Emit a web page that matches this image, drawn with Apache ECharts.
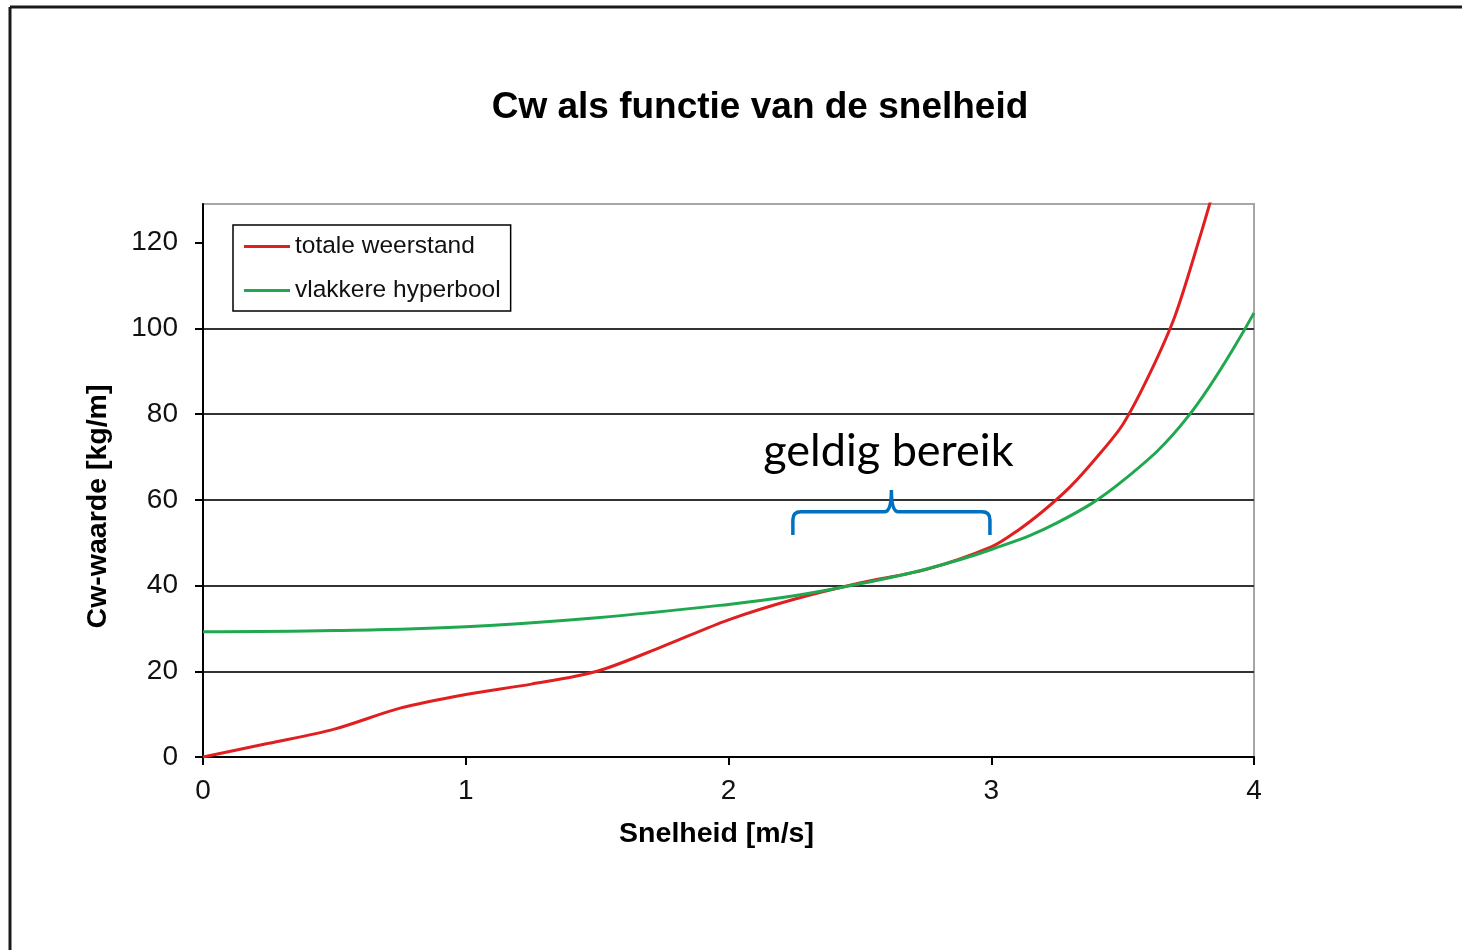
<!DOCTYPE html>
<html>
<head>
<meta charset="utf-8">
<title>Cw als functie van de snelheid</title>
<script src="https://cdn.jsdelivr.net/npm/echarts@6/dist/echarts.min.js"></script>
<style>
    html, body { margin: 0; padding: 0; background: #fff; }
    #main { width: 1462px; height: 950px; }
</style>
</head>
<body>
<div id="main"></div>
<script>
// snelheid [m/s] en Cw-waarde [kg/m]
var speedRed = [0, 0.25, 0.5, 0.75, 1, 1.25, 1.5, 1.75, 2, 2.25, 2.5, 2.75, 3, 3.1, 3.2, 3.3, 3.4, 3.5, 3.6, 3.7, 3.8, 3.85];
var totaleWeerstand = [0, 3.2, 6.5, 11.4, 14.6, 17, 20, 25.8, 32, 36.8, 40.6, 43.7, 49, 52.8, 57.5, 63, 69.8, 77.5, 89, 103, 122.5, 133];

var speedGreen = [0, 0.5, 1, 1.5, 2, 2.25, 2.5, 2.75, 3, 3.25, 3.5, 3.75, 4];
var vlakkereHyperbool = [29.2, 29.5, 30.4, 32.5, 35.6, 37.6, 40.4, 43.8, 48.4, 54.6, 64.4, 79.5, 103.6];

var xTicks = [0, 1, 2, 3, 4];
var yTicks = [0, 20, 40, 60, 80, 100, 120];

// geldig bereik (accolade)
var validRange = [2.245, 2.995];
var braceFoot = 51.8, braceBar = 57.2, bracePeak = 62.3, braceLabelLevel = 71.3;

var seriesNames = ['totale weerstand', 'vlakkere hyperbool'];

function pairs(xs, ys) {
    return xs.map(function (x, i) { return [x, ys[i]]; });
}

var chart = echarts.init(document.getElementById('main'));

function renderBrace(params, api) {
    var left = api.coord([api.value(0), braceBar]);
    var right = api.coord([api.value(1), braceBar]);
    var foot = api.coord([api.value(0), braceFoot])[1];
    var peak = api.coord([api.value(0), bracePeak])[1];
    var lbl = api.coord([api.value(0), braceLabelLevel])[1];
    var x1 = left[0], x2 = right[0], yh = left[1], xm = (x1 + x2) / 2, r = 8, rm = 7;
    var d = 'M' + x1 + ' ' + foot +
        ' L' + x1 + ' ' + (yh + r) +
        ' Q' + x1 + ' ' + yh + ' ' + (x1 + r) + ' ' + yh +
        ' L' + (xm - rm) + ' ' + yh +
        ' Q' + xm + ' ' + yh + ' ' + xm + ' ' + peak +
        ' Q' + xm + ' ' + yh + ' ' + (xm + rm) + ' ' + yh +
        ' L' + (x2 - r) + ' ' + yh +
        ' Q' + x2 + ' ' + yh + ' ' + x2 + ' ' + (yh + r) +
        ' L' + x2 + ' ' + foot;
    return {
        type: 'group',
        children: [
            {
                type: 'path',
                shape: { pathData: d },
                style: { fill: 'none', stroke: '#0070C0', lineWidth: 3.5 }
            },
            {
                type: 'text',
                style: {
                    text: 'geldig bereik',
                    x: xm - 3,
                    y: lbl,
                    align: 'center',
                    verticalAlign: 'middle',
                    fill: '#000',
                    font: '45px Lato, "Open Sans", sans-serif'
                }
            }
        ]
    };
}

var axisFont = '"Liberation Sans", Arial, sans-serif';

var option = {
    backgroundColor: '#fff',
    animation: false,
    title: {
        text: 'Cw als functie van de snelheid',
        left: 760,
        textAlign: 'center',
        top: 89,
        padding: 0,
        textStyle: { fontFamily: axisFont, fontSize: 37, fontWeight: 'bold', color: '#000' }
    },
    graphic: [
        { type: 'line', shape: { x1: 10, y1: 7, x2: 1462, y2: 7 }, style: { stroke: '#1a1a1a', lineWidth: 3 } },
        { type: 'line', shape: { x1: 10, y1: 7, x2: 10, y2: 950 }, style: { stroke: '#1a1a1a', lineWidth: 3 } }
    ],
    legend: {
        data: seriesNames,
        orient: 'vertical',
        left: 233,
        top: 225,
        padding: [9, 10, 8, 11],
        itemGap: 19,
        itemWidth: 46,
        itemHeight: 3,
        icon: 'rect',
        backgroundColor: '#fff',
        borderColor: '#000',
        borderWidth: 1.5,
        textStyle: { fontFamily: axisFont, fontSize: 24.5, lineHeight: 25, color: '#111' }
    },
    grid: {
        left: 203,
        right: 208,
        top: 204,
        bottom: 193,
        show: true,
        borderColor: '#a6a6a6',
        borderWidth: 2
    },
    xAxis: {
        type: 'value',
        min: 0,
        max: 4,
        interval: 1,
        name: 'Snelheid [m/s]',
        nameLocation: 'middle',
        nameGap: 63,
        nameTextStyle: { fontFamily: axisFont, fontSize: 28.5, fontWeight: 'bold', color: '#000', padding: [0, 24, 0, 0] },
        axisLine: { lineStyle: { color: '#000', width: 2 } },
        axisTick: { inside: false, length: 8, lineStyle: { color: '#000', width: 2 }, customValues: xTicks },
        axisLabel: { margin: 20, fontFamily: axisFont, fontSize: 28, color: '#111', customValues: xTicks },
        splitLine: { show: false }
    },
    yAxis: {
        type: 'value',
        min: 0,
        max: 129,
        interval: 20,
        name: 'Cw-waarde [kg/m]',
        nameLocation: 'middle',
        nameGap: 90,
        nameTextStyle: { fontFamily: axisFont, fontSize: 28.5, fontWeight: 'bold', color: '#000', padding: [0, 52, 0, 0] },
        axisLine: { show: true, lineStyle: { color: '#000', width: 2 } },
        axisTick: { show: true, inside: false, length: 8, lineStyle: { color: '#000', width: 2 }, customValues: yTicks },
        axisLabel: { margin: 25, fontFamily: axisFont, fontSize: 28, color: '#111', customValues: yTicks },
        splitLine: { show: true, showMinLine: false, showMaxLine: false, lineStyle: { color: '#333', width: 2 } }
    },
    series: [
        {
            name: seriesNames[0],
            type: 'line',
            data: pairs(speedRed, totaleWeerstand),
            smooth: 0.3,
            symbol: 'none',
            color: '#E02020',
            lineStyle: { width: 3, color: '#E02020' },
            z: 3
        },
        {
            name: seriesNames[1],
            type: 'line',
            data: pairs(speedGreen, vlakkereHyperbool),
            smooth: 0.4,
            symbol: 'none',
            color: '#1FA84F',
            lineStyle: { width: 3, color: '#1FA84F' },
            z: 4
        },
        {
            type: 'custom',
            silent: true,
            renderItem: renderBrace,
            data: [validRange],
            z: 5
        }
    ]
};

chart.setOption(option);
</script>
</body>
</html>
